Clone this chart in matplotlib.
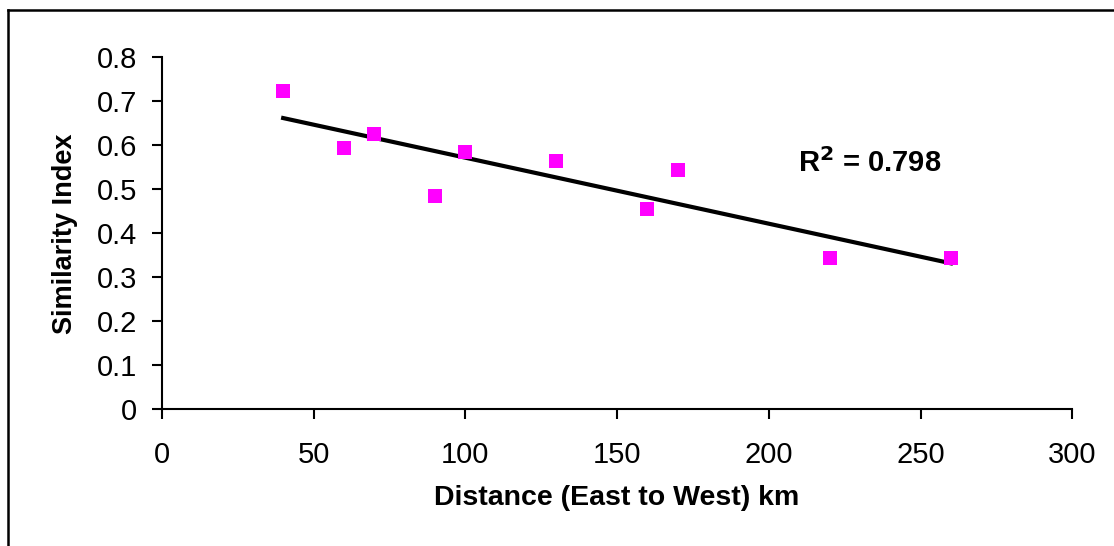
import numpy as np
import matplotlib
matplotlib.use('Agg')
import matplotlib.pyplot as plt
from matplotlib.lines import Line2D

plt.rcParams['font.family'] = ['Liberation Sans', 'DejaVu Sans']

# data
distance_km = [40, 60, 70, 90, 100, 130, 160, 170, 220, 260]
similarity = [0.724, 0.595, 0.626, 0.485, 0.584, 0.565, 0.455, 0.545, 0.345, 0.345]
r2_text = 'R$^\\mathbf{2}$ = 0.798'
x_ticks = [0, 50, 100, 150, 200, 250, 300]
y_ticks = [0, 0.1, 0.2, 0.3, 0.4, 0.5, 0.6, 0.7, 0.8]

fig = plt.figure(figsize=(11.14, 5.46), dpi=100)
ax = fig.add_axes([0.1452, 0.2504, 0.8174, 0.6446])

ax.plot(distance_km, similarity, linestyle='none', marker='s', markersize=10,
        color='#ff00ff', markeredgewidth=0, zorder=3)

# linear trend line
k, b = np.polyfit(distance_km, similarity, 1)
xs = np.array([min(distance_km), max(distance_km)])
ax.plot(xs, k * xs + b, color='black', linewidth=3, zorder=2)

ax.text(209.5, 0.56, r2_text, fontsize=21, fontweight='bold', va='center', ha='left')

ax.set_xlim(0, 300)
ax.set_ylim(0, 0.8)
ax.set_xticks(x_ticks)
ax.set_yticks(y_ticks)
ax.set_yticklabels(['0'] + ['%.1f' % v for v in y_ticks[1:]])
ax.tick_params(direction='out', length=7.5, width=1.5, labelsize=21)
ax.tick_params(axis='y', pad=10)
ax.tick_params(axis='x', pad=15)
for s in ['top', 'right']:
    ax.spines[s].set_visible(False)
for s in ['left', 'bottom']:
    ax.spines[s].set_linewidth(1.5)

ax.set_xlabel('Distance (East to West) km', fontsize=20.5, fontweight='bold', labelpad=12)
ax.set_ylabel('Similarity Index', fontsize=19.5, fontweight='bold', labelpad=14)

# outer chart frame (left and top edges visible)
fig.add_artist(Line2D([8 / 1114, 8 / 1114], [0, 1 - 10 / 546], color='black', linewidth=1.8))
fig.add_artist(Line2D([8 / 1114, 1], [1 - 10 / 546, 1 - 10 / 546], color='black', linewidth=1.8))

plt.savefig('out.png', dpi=100)
